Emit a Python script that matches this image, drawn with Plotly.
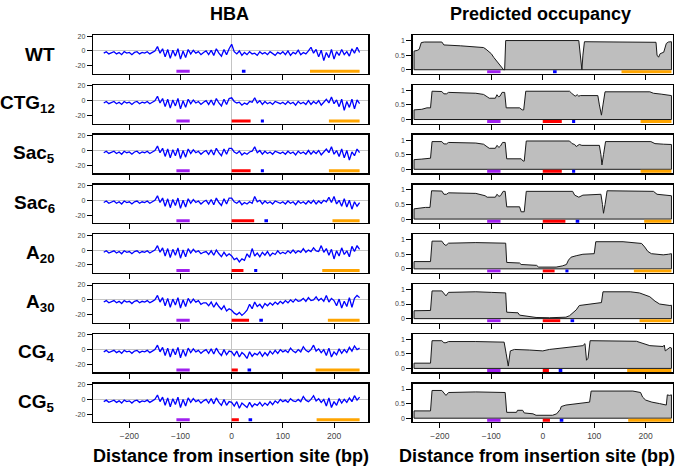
import plotly.graph_objects as go

W, H = 685, 467

ROW_LABELS = ["WT", "CTG<sub>12</sub>", "Sac<sub>5</sub>", "Sac<sub>6</sub>",
              "A<sub>20</sub>", "A<sub>30</sub>", "CG<sub>4</sub>", "CG<sub>5</sub>"]
ROW_KEYS = ["WT", "CTG12", "Sac5", "Sac6", "A20", "A30", "CG4", "CG5"]

# ---------------- HBA (left column), sampled every 5 bp from -250 to 250 ----------------
X_HBA = list(range(-250, 251, 5))

# shared upstream part (-250 .. -65), identical in all constructs
HBA_UP = [-3, -1, -4, -2, -1, -4, -2, -5, -1, -3,
          -2, -5, -2, -1, -4, -2, -3, -1, -4, -2,
          0, 6, -3, 3, -8, 2, -10, 1, -7, 3,
          -11, 0, -9, 2, -4, 1, -3, -1]

# -60 .. -5
HBA_NEAR = {
    "WT":    [-5, -2, 0, -5, 1, -6, 3, -3, -7, 2, -5, 3],
    "CTG12": [-5, -2, 0, -5, 1, -6, 3, -3, -7, 2, -5, 3],
    "Sac5":  [-5, -2, 0, -5, 1, -6, 3, -3, -7, 2, -5, 3],
    "Sac6":  [-5, -2, 0, -5, 1, -6, 3, -3, -7, 2, -5, 3],
    "A20":   [-5, -3, -2, -6, -1, -7, 0, -5, -9, -3, -8, -5],
    "A30":   [-6, -4, -4, -8, -3, -10, -4, -9, -13, -8, -15, -12],
    "CG4":   [-5, -2, 0, -5, 1, -6, 2, -4, -8, 0, -7, -2],
    "CG5":   [-5, -2, 0, -5, 1, -6, 2, -4, -8, 0, -8, -3],
}

# 0 .. 250
HBA_DOWN = {
    "WT":    [9, -1, -4, 0, -6, -2, -5, -1, -4, -3,
              -6, -1, -4, -2, -5, -1, -3, -6, -2, -4,
              -1, -5, 0, -6, -2, -4, 1, -5, -2, -4,
              0, 5, -3, 2, -8, 1, -13, -2, -9, 2,
              -11, -1, -6, 2, -5, -1, -7, 3, -3, 5, -2],
    "CTG12": [4, -1, -3, -2, -6, -3, -5, -1, -2, 4,
              -3, 0, -5, -1, -4, -2, -5, -1, -3, -4,
              -2, -5, -1, -4, -2, -6, -1, -4, -2, -5,
              0, -5, -1, -4, 0, -6, -2, 2, -3, 5,
              -4, 1, -8, 2, -13, -1, -9, 2, -11, 1, -4],
    "Sac5":  [3, -2, -4, -1, -6, -3, -5, -2, -1, 5,
              -3, 0, -5, -1, -4, -2, -5, -1, -3, -4,
              -2, -5, -1, -4, -2, -6, -1, -4, -2, -5,
              0, -5, -1, -4, 0, -6, -2, 2, -3, 5,
              -5, 0, -8, 2, -10, 0, -13, -2, -7, 2, -3],
    "Sac6":  [3, -2, -4, -1, -6, -3, -5, -2, -4, 5,
              -2, 0, -5, -1, -4, -2, -5, -1, -3, -4,
              -2, -5, -1, -4, -2, -6, -1, -4, -2, -5,
              -1, -4, 0, -5, -1, -4, 0, -2, 4, -3,
              5, -5, 0, -8, 2, -9, 0, -12, -2, -8, -3],
    "A20":   [-8, -13, -11, -16, -12, -14, -5, -10, 2, -8,
              -4, -9, -3, -7, -2, -8, -4, -6, -1, -5,
              -3, -5, -1, -4, 0, -4, -1, -3, 2, -3,
              0, -2, 3, -1, -2, 6, -3, 2, -7, 1,
              -12, -1, -8, 3, -6, -1, -9, 5, -2, 6, 1],
    "A30":   [-14, -18, -20, -17, -21, -18, -14, -6, -12, -3,
              -9, -6, -11, -5, -8, -4, -7, -3, -6, -2,
              -5, -1, -4, 0, -3, 1, -2, -1, 2, -2,
              3, -1, 0, 4, -1, 2, -2, 6, -3, 2,
              -1, -8, 1, -11, -2, -9, 3, -10, 2, 6, 3],
    "CG4":   [-3, -8, -2, -10, -4, -7, -12, -3, -9, -5,
              -7, -3, -9, -4, -8, -2, -6, -1, -5, 0,
              -3, -1, -4, 2, -2, -4, 0, -3, 4, -1,
              -3, 0, 6, -2, 1, -4, 0, -8, 2, -10,
              -3, -7, 1, -5, 0, -4, 3, -2, 5, 0, 2],
    "CG5":   [-4, -9, -3, -12, -5, -8, -11, -4, -10, -6,
              -8, -4, -9, -5, -8, -3, -7, -2, -5, 0,
              -3, -1, -4, 1, -2, -3, 0, -3, 4, -1,
              -3, 0, 5, -2, 1, -4, 0, -9, 2, -11,
              -3, -8, 1, -5, 0, -4, 2, -3, 5, -1, 3],
}

# ---------------- Predicted occupancy (right column) ----------------
OCC_X = {
    "WT":    [-250, -244, -240, -236, -230, -196, -192, -160, -130, -115, -110, -105, -100, -95, -90,
              -86, -82, -79, -76, -74, -72, 70, 73, 76, 78, 81, 150, 220, 222, 225, 228, 235, 240, 244, 250],
    "CTG12": [-250, -235, -225, -218, -215, -196, -192, -187, -183, -130, -115, -108, -104, -92, -89,
              -86, -83, -79, -74, -71, -45, -40, -37, -33, 52, 56, 63, 67, 70, 73, 107, 110, 114, 117,
              121, 208, 215, 230, 250],
    "Sac5":  [-250, -235, -225, -218, -215, -196, -192, -187, -183, -130, -115, -108, -104, -92, -89,
              -85, -82, -78, -73, -70, -42, -38, -36, -32, 52, 57, 62, 65, 71, 76, 110, 113, 115, 118,
              122, 210, 218, 235, 250],
    "Sac6":  [-250, -228, -219, -216, -196, -192, -187, -183, -130, -112, -108, -92, -89, -85, -82,
              -77, -73, -70, -45, -42, -36, -32, 58, 62, 65, 70, 78, 113, 116, 118, 121, 125, 215, 222, 250],
    "A20":   [-250, -218, -215, -196, -192, -188, -183, -130, -100, -72, -70, -45, -42, -12, -8,
              26, 38, 46, 50, 55, 65, 78, 100, 103, 156, 175, 192, 198, 204, 211, 234, 244, 250],
    "A30":   [-250, -218, -215, -196, -192, -188, -183, -130, -100, -72, -70, -48, -45, -32, -13,
              13, 45, 52, 58, 65, 71, 91, 114, 117, 170, 188, 198, 208, 218, 227, 247, 250],
    "CG4":   [-250, -218, -215, -196, -192, -188, -183, -130, -75, -71, -67, -63, -55, -26, 0,
              13, 39, 52, 78, 82, 85, 88, 92, 182, 195, 208, 234, 236, 238, 247, 250],
    "CG5":   [-250, -218, -215, -196, -192, -188, -183, -130, -73, -70, -51, -49, -39, -36, -19,
              -13, 19, 27, 34, 36, 45, 65, 91, 94, 175, 190, 194, 200, 212, 227, 240, 242, 246, 250],
}
OCC_Y = {
    "WT":    [0.64, 0.66, 0.7, 0.93, 0.95, 0.95, 0.85, 0.82, 0.79, 0.76, 0.7, 0.64, 0.55, 0.42, 0.3,
              0.22, 0.12, 0.04, 0.0, 0.0, 1.0, 1.0, 0.5, 0.0, 0.5, 0.96, 0.95, 0.94, 0.5, 0.43, 0.55,
              0.6, 0.9, 0.95, 0.96],
    "CTG12": [0.33, 0.35, 0.4, 0.4, 0.97, 0.96, 0.88, 0.88, 0.93, 0.9, 0.86, 0.78, 0.73, 0.73, 0.85,
              0.78, 0.8, 0.93, 0.93, 0.4, 0.4, 0.33, 0.33, 0.97, 0.97, 0.9, 0.8, 0.85, 0.8, 0.82,
              0.82, 0.5, 0.15, 0.5, 0.95, 0.95, 0.9, 0.87, 0.82],
    "Sac5":  [0.33, 0.35, 0.38, 0.38, 0.95, 0.95, 0.87, 0.87, 0.92, 0.9, 0.86, 0.78, 0.72, 0.72, 0.82,
              0.75, 0.8, 0.92, 0.92, 0.36, 0.36, 0.28, 0.28, 0.97, 0.97, 0.88, 0.85, 0.78, 0.85, 0.82,
              0.82, 0.5, 0.15, 0.5, 0.95, 0.95, 0.88, 0.86, 0.85],
    "Sac6":  [0.35, 0.4, 0.4, 0.97, 0.96, 0.85, 0.85, 0.9, 0.88, 0.8, 0.75, 0.75, 0.85, 0.78, 0.8,
              0.95, 0.95, 0.42, 0.42, 0.25, 0.25, 0.95, 0.95, 0.82, 0.8, 0.75, 0.82, 0.85, 0.5, 0.2,
              0.5, 0.97, 0.95, 0.85, 0.8],
    "A20":   [0.25, 0.25, 0.95, 0.95, 0.85, 0.8, 0.88, 0.9, 0.9, 0.88, 0.22, 0.2, 0.15, 0.12, 0.06,
              0.06, 0.1, 0.15, 0.3, 0.4, 0.45, 0.5, 0.52, 0.93, 0.93, 0.9, 0.87, 0.75, 0.6, 0.52,
              0.48, 0.5, 0.52],
    "A30":   [0.27, 0.28, 0.95, 0.95, 0.85, 0.78, 0.9, 0.92, 0.9, 0.88, 0.22, 0.2, 0.12, 0.08, 0.04,
              0.03, 0.05, 0.1, 0.2, 0.3, 0.45, 0.5, 0.55, 0.92, 0.92, 0.88, 0.82, 0.75, 0.6, 0.5,
              0.45, 0.46],
    "CG4":   [0.18, 0.18, 0.95, 0.95, 0.88, 0.88, 0.92, 0.92, 0.9, 0.5, 0.08, 0.6, 0.65, 0.63, 0.6,
              0.65, 0.7, 0.75, 0.78, 0.85, 0.28, 0.35, 0.95, 0.93, 0.85, 0.78, 0.75, 0.8, 0.6, 0.72, 0.7],
    "CG5":   [0.25, 0.25, 0.95, 0.95, 0.85, 0.78, 0.88, 0.9, 0.88, 0.2, 0.2, 0.27, 0.27, 0.18, 0.15,
              0.1, 0.1, 0.15, 0.3, 0.4, 0.45, 0.5, 0.55, 0.93, 0.93, 0.88, 0.72, 0.62, 0.55, 0.5,
              0.45, 0.8, 0.78, 0.8],
}

# ---------------- annotated sequence features (start, end in bp) ----------------
FEAT_PURPLE = {k: (-108, -82) for k in ROW_KEYS}
FEAT_RED = {"WT": None, "CTG12": (0, 37), "Sac5": (0, 37), "Sac6": (0, 44),
            "A20": (0, 23), "A30": (0, 34), "CG4": (0, 12), "CG5": (0, 14)}
FEAT_BLUE = {"WT": (20, 27), "CTG12": (57, 63), "Sac5": (57, 63), "Sac6": (64, 71),
             "A20": (44, 50), "A30": (54, 61), "CG4": (31, 38), "CG5": (33, 40)}
FEAT_ORANGE = {"WT": (153, 250), "CTG12": (190, 250), "Sac5": (190, 250), "Sac6": (197, 250),
               "A20": (177, 250), "A30": (188, 250), "CG4": (164, 250), "CG5": (166, 250)}
FEAT_COLORS = [("#A020F0", FEAT_PURPLE), ("#FF0000", FEAT_RED),
               ("#0000FF", FEAT_BLUE), ("#FFA500", FEAT_ORANGE)]

FONT = "Liberation Sans, Arial, Helvetica, sans-serif"
TICKFONT_Y = dict(family=FONT, size=7, color="#444")
TICKFONT_X = dict(family=FONT, size=8.5, color="#444")
TITLE_FONT = dict(family=FONT, size=18, color="black")

fig = go.Figure()
layout = dict(width=W, height=H, margin=dict(l=0, r=0, t=0, b=0),
              paper_bgcolor="white", plot_bgcolor="white", showlegend=False,
              font=dict(family=FONT))
annotations = []

LX = [93 / W, 368.3 / W]
RX = [412.5 / W, 673 / W]

for r, key in enumerate(ROW_KEYS):
    top = 32.4 + 50.1 * r
    bot = top + 38.8
    ydom = [1 - bot / H, 1 - top / H]
    li, ri = 2 * r + 1, 2 * r + 2
    lxa, lya = f"x{li}", f"y{li}"
    rxa, rya = f"x{ri}", f"y{ri}"

    hba = HBA_UP + HBA_NEAR[key] + HBA_DOWN[key]
    fig.add_trace(go.Scatter(x=X_HBA, y=hba, mode="lines", xaxis=lxa, yaxis=lya,
                             line=dict(color="#0000FF", width=1.3), hoverinfo="skip"))

    ox, oy = OCC_X[key], OCC_Y[key]
    px = [ox[0]] + ox + [ox[-1], ox[0]]
    py = [0] + oy + [0, 0]
    fig.add_trace(go.Scatter(x=px, y=py, mode="lines", fill="toself", fillcolor="#BEBEBE",
                             xaxis=rxa, yaxis=rya, line=dict(color="#1a1a1a", width=1),
                             hoverinfo="skip"))

    for color, feat in FEAT_COLORS:
        seg = feat[key]
        if seg is None:
            continue
        fig.add_trace(go.Scatter(x=list(seg), y=[-27.5, -27.5], mode="lines", xaxis=lxa, yaxis=lya,
                                 line=dict(color=color, width=3), hoverinfo="skip"))
        fig.add_trace(go.Scatter(x=list(seg), y=[-0.07, -0.07], mode="lines", xaxis=rxa, yaxis=rya,
                                 line=dict(color=color, width=3), hoverinfo="skip"))

    common_x = dict(showline=True, mirror=True, linecolor="black", linewidth=1.3,
                    ticks="outside", ticklen=5, tickwidth=1, tickcolor="black",
                    tickvals=[-200, -100, 0, 100, 200], showticklabels=(r == 7),
                    tickfont=TICKFONT_X, showgrid=False, fixedrange=True)
    common_y = dict(showline=True, mirror=True, linecolor="black", linewidth=1.3,
                    ticks="outside", ticklen=5, tickwidth=1, tickcolor="black",
                    tickfont=TICKFONT_Y, showgrid=False, fixedrange=True)

    layout["xaxis" + (str(li) if li > 1 else "")] = dict(
        domain=LX, range=[-271, 267], anchor=lya, zeroline=True,
        zerolinecolor="#C4C4C4", zerolinewidth=1, **common_x)
    layout["yaxis" + str(li) if li > 1 else "yaxis"] = dict(
        domain=ydom, range=[-30.8, 21.3], anchor=lxa, zeroline=True,
        zerolinecolor="#C4C4C4", zerolinewidth=1,
        tickvals=[-20, 0, 20], ticktext=["-20", "0", "20"], **common_y)
    layout["xaxis" + str(ri)] = dict(domain=RX, range=[-253, 253], anchor=rya,
                                     zeroline=False, **common_x)
    layout["yaxis" + str(ri)] = dict(domain=ydom, range=[-0.137, 1.184], anchor=rxa,
                                     zeroline=False, tickvals=[0, 0.5, 1],
                                     ticktext=["0", "0.5", "1"], **common_y)

    annotations.append(dict(text=f"<b>{ROW_LABELS[r]}</b>", x=57 / W, y=1 - (top + 19.4) / H,
                            xref="paper", yref="paper", xanchor="right", yanchor="middle",
                            showarrow=False, font=dict(family=FONT, size=19, color="black")))

annotations += [
    dict(text="<b>HBA</b>", x=230 / W, y=1 - 11 / H, xref="paper", yref="paper",
         xanchor="center", yanchor="middle", showarrow=False, font=TITLE_FONT),
    dict(text="<b>Predicted occupancy</b>", x=540 / W, y=1 - 11 / H, xref="paper", yref="paper",
         xanchor="center", yanchor="middle", showarrow=False, font=TITLE_FONT),
    dict(text="<b>Distance from insertion site (bp)</b>", x=231 / W, y=1 - 456 / H,
         xref="paper", yref="paper", xanchor="center", yanchor="middle", showarrow=False,
         font=TITLE_FONT),
    dict(text="<b>Distance from insertion site (bp)</b>", x=537 / W, y=1 - 456 / H,
         xref="paper", yref="paper", xanchor="center", yanchor="middle", showarrow=False,
         font=TITLE_FONT),
]
layout["annotations"] = annotations
fig.update_layout(**layout)
fig.write_html("out.html", config={"displayModeBar": False, "staticPlot": True},
               post_script="document.body.style.margin='0';document.body.style.overflow='hidden';")
